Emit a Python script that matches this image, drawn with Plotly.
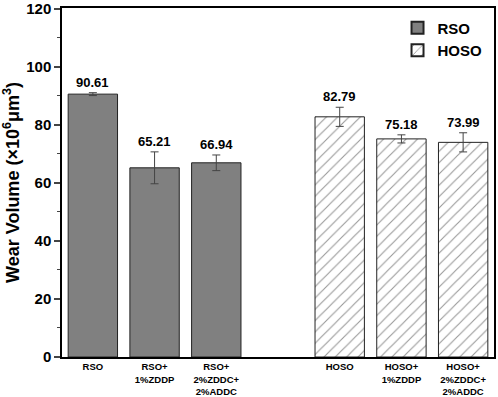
import plotly.graph_objects as go

rso_labels = ["RSO", "RSO+<br>1%ZDDP", "RSO+<br>2%ZDDC+<br>2%ADDC"]
hoso_labels = ["HOSO", "HOSO+<br>1%ZDDP", "HOSO+<br>2%ZDDC+<br>2%ADDC"]
rso_pos = [0, 1, 2]
hoso_pos = [4, 5, 6]
rso_values = [90.61, 65.21, 66.94]
rso_err = [0.5, 5.5, 2.7]
hoso_values = [82.79, 75.18, 73.99]
hoso_err = [3.3, 1.4, 3.3]
y_ticks = [0, 20, 40, 60, 80, 100, 120]

font = "Liberation Sans, Arial, sans-serif"

fig = go.Figure()
fig.add_trace(go.Bar(
    x=rso_pos, y=rso_values, name="<b>RSO</b>", width=0.8,
    marker=dict(color="#808080", line=dict(color="#222222", width=1)),
    error_y=dict(type="data", array=rso_err, color="#444444", thickness=1, width=4),
))
fig.add_trace(go.Bar(
    x=hoso_pos, y=hoso_values, name="<b>HOSO</b>", width=0.8,
    marker=dict(color="white", line=dict(color="#222222", width=1),
                pattern=dict(shape="/", fgcolor="#333333", bgcolor="white", size=8, solidity=0.14)),
    error_y=dict(type="data", array=hoso_err, color="#444444", thickness=1, width=4),
))

for xs, vals, errs in [(rso_pos, rso_values, rso_err), (hoso_pos, hoso_values, hoso_err)]:
    for x, v, e in zip(xs, vals, errs):
        fig.add_annotation(x=x, y=v + e, text=f"<b>{v:.2f}</b>", showarrow=False,
                           yanchor="bottom", yshift=1, font=dict(size=13, color="black", family=font))

fig.update_layout(
    width=498, height=397,
    margin=dict(l=62, r=4, t=8, b=40, autoexpand=False),
    paper_bgcolor="white", plot_bgcolor="white",
    font=dict(family=font, color="black"),
    showlegend=True,
    legend=dict(x=0.985, y=0.99, xanchor="right", yanchor="top", font=dict(size=15),
                bgcolor="rgba(0,0,0,0)", itemsizing="constant", tracegroupgap=0),
    barmode="overlay",
)
fig.update_xaxes(
    range=[-0.5, 6.5], tickvals=rso_pos + hoso_pos,
    ticktext=[f"<b>{t}</b>" for t in rso_labels + hoso_labels],
    tickfont=dict(size=9.5), showline=True, linecolor="black", linewidth=1.5,
    mirror=True, ticks="", showgrid=False, zeroline=False, automargin=False,
)
fig.update_yaxes(
    range=[0, 120.3], tickvals=y_ticks, ticktext=[f"<b>{t}</b>" for t in y_ticks],
    ticks="outside", ticklen=6, tickwidth=1.5,
    tickfont=dict(size=15),
    minor=dict(tickvals=[10, 30, 50, 70, 90, 110], ticks="outside", ticklen=3, tickwidth=1),
    showline=True, linecolor="black", linewidth=1.5, mirror=True,
    showgrid=False, zeroline=False, automargin=False,
    title=dict(text="<b>Wear Volume (×10<sup>6</sup>μm<sup>3</sup>)</b>", font=dict(size=18), standoff=6),
)
fig.write_html("out.html", post_script="document.body.style.margin='0';",
               config={"displayModeBar": False})
